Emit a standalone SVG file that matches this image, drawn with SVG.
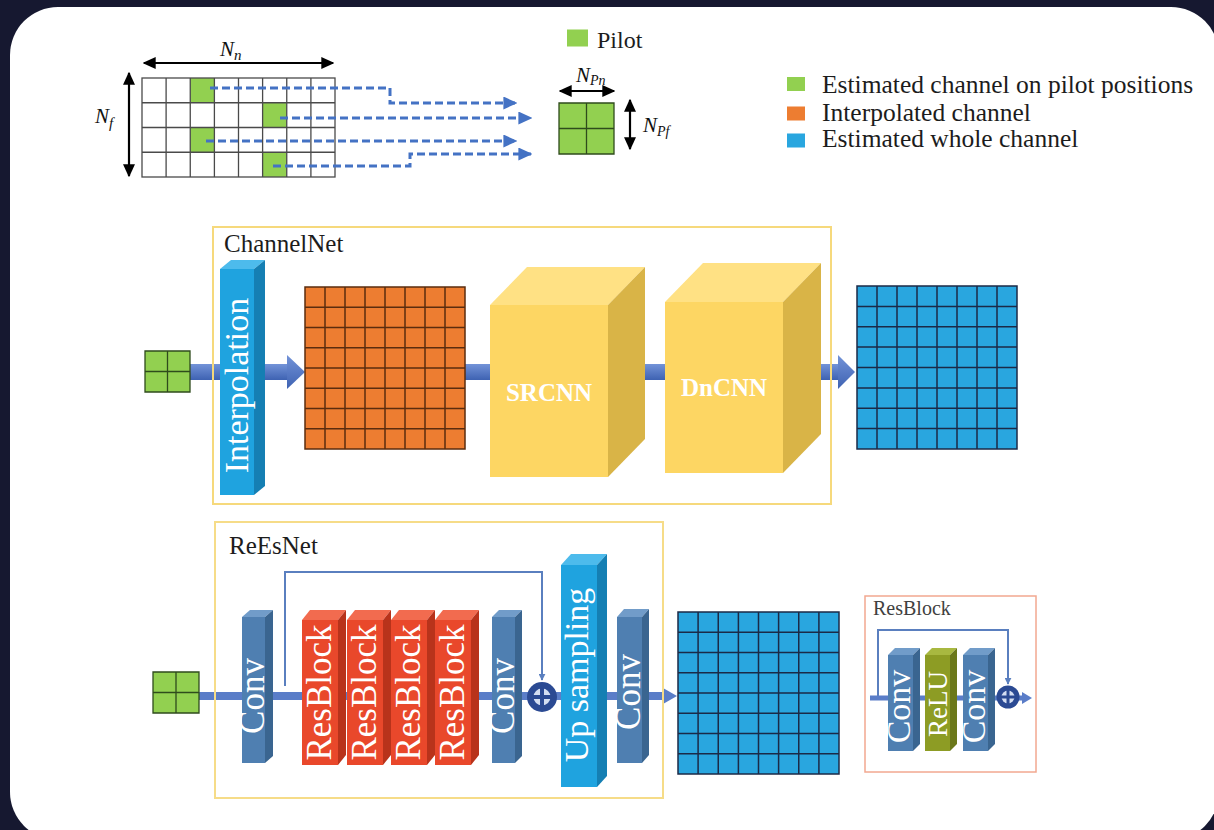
<svg xmlns="http://www.w3.org/2000/svg" width="1214" height="830" viewBox="0 0 1214 830">
<defs>
<style>
text{font-family:"Liberation Serif","Times New Roman",serif}
.math{font-style:italic;fill:#111}
.lg{font-size:25.5px;fill:#1c1c1c}
.ttl{font-size:25px;fill:#1c1c1c}
.wt{fill:#fff;text-anchor:middle}
.gl{stroke:#4a4a4a;stroke-width:1.3;fill:none}
.og{stroke:#5b2c0e;stroke-width:1.5;fill:none}
.bg{stroke:#1b2a47;stroke-width:1.5;fill:none}
.gg{stroke:#2f4b1c;stroke-width:1.3;fill:none}
.dash{stroke:#4472c4;stroke-width:3;stroke-dasharray:8 4;fill:none}
.dbl{stroke:#000;stroke-width:2.2;fill:none}
.skip{stroke:#5a7fbf;stroke-width:2;fill:none}
.fbB{fill:#1fa3df}.tbB{fill:#4dbbec}.sbB{fill:#157fb3}
.fY{fill:#fdd663}.tY{fill:#ffe184}.sY{fill:#d9b447}
.fC{fill:#4f7fb1}.tC{fill:#719cc9}.sC{fill:#3a6590}
.fR{fill:#e9482b}.tR{fill:#f26b4f}.sR{fill:#b8331b}
.fL{fill:#8d9c24}.tL{fill:#a8b840}.sL{fill:#6b781a}
.band{fill:#5a7dc8}
</style>
<linearGradient id="thick" x1="0" y1="0" x2="0" y2="1">
<stop offset="0" stop-color="#7393d8"/>
<stop offset="1" stop-color="#3e62b2"/>
</linearGradient>
<marker id="ba" viewBox="0 0 10 10" refX="9" refY="5" markerWidth="13" markerHeight="12" markerUnits="userSpaceOnUse" orient="auto-start-reverse" preserveAspectRatio="none"><path d="M0,0 L10,5 L0,10 z" fill="#000"/></marker>
<marker id="da" viewBox="0 0 10 10" refX="9" refY="5" markerWidth="14" markerHeight="13" markerUnits="userSpaceOnUse" orient="auto" preserveAspectRatio="none"><path d="M0,0 L10,5 L0,10 z" fill="#4472c4"/></marker>
<marker id="sa" viewBox="0 0 10 10" refX="9" refY="5" markerWidth="7" markerHeight="7" markerUnits="userSpaceOnUse" orient="auto"><path d="M0,0 L10,5 L0,10 z" fill="#5a7fbf"/></marker>
</defs>

<rect x="0" y="0" width="1214" height="830" fill="#161830"/>
<rect x="10" y="7" width="1209" height="833" rx="48" fill="#fff"/>

<!-- Top: resource grid -->
<g id="resource-grid">
<rect x="142" y="78" width="193" height="99" fill="#fff"/>
<rect x="190.25" y="78" width="24.13" height="24.75" fill="#92d050"/>
<rect x="262.6" y="102.75" width="24.13" height="24.75" fill="#92d050"/>
<rect x="190.25" y="127.5" width="24.13" height="24.75" fill="#92d050"/>
<rect x="262.6" y="152.25" width="24.13" height="24.75" fill="#92d050"/>
<rect class="gl" x="142" y="78" width="193" height="99"/>
<path class="gl" d="M166.1 78V177M190.25 78V177M214.4 78V177M238.5 78V177M262.6 78V177M286.75 78V177M310.9 78V177M142 102.75H335M142 127.5H335M142 152.25H335"/>
<line class="dbl" x1="144" y1="63" x2="333" y2="63" marker-start="url(#ba)" marker-end="url(#ba)"/>
<line class="dbl" x1="129" y1="73" x2="129" y2="176" marker-start="url(#ba)" marker-end="url(#ba)"/>
<text class="math" x="220" y="56" font-size="21">N<tspan font-size="15" dy="4">n</tspan></text>
<text class="math" x="95" y="123" font-size="21">N<tspan font-size="15" dy="5">f</tspan></text>
</g>

<g id="pilot-legend">
<rect x="567" y="29.5" width="21" height="17" fill="#92d050"/>
<text x="597" y="48" font-size="24" fill="#1c1c1c">Pilot</text>
</g>

<g id="pilot-block">
<rect x="559" y="103" width="55" height="51" fill="#92d050"/>
<path class="gg" d="M559 103h55v51h-55zM586.5 103V154M559 128.5H614"/>
<line class="dbl" x1="560" y1="91" x2="614" y2="91" marker-start="url(#ba)" marker-end="url(#ba)"/>
<line class="dbl" x1="630" y1="100" x2="630" y2="149" marker-start="url(#ba)" marker-end="url(#ba)"/>
<text class="math" x="576" y="82" font-size="21">N<tspan font-size="14" dy="3">Pn</tspan></text>
<text class="math" x="643" y="131.5" font-size="21">N<tspan font-size="14" dy="4">Pf</tspan></text>
</g>

<g id="legend">
<rect x="787" y="77" width="18" height="14" fill="#92d050"/>
<rect x="787" y="106.5" width="18" height="14" fill="#ed7d31"/>
<rect x="787" y="133.5" width="18" height="14" fill="#29a6df"/>
<text class="lg" x="822" y="93">Estimated channel on pilot positions</text>
<text class="lg" x="822" y="120.5">Interpolated channel</text>
<text class="lg" x="822" y="147">Estimated whole channel</text>
</g>

<g id="connectors">
<path class="dash" d="M210 88H390V103H516" marker-end="url(#da)"/>
<path class="dash" d="M280 118H531" marker-end="url(#da)"/>
<path class="dash" d="M206 141H516" marker-end="url(#da)"/>
<path class="dash" d="M273 166H410V154H531" marker-end="url(#da)"/>
<!-- ChannelNet thick flow -->
<rect x="190" y="364" width="97" height="16" fill="url(#thick)"/>
<polygon points="287,355 305,372 287,389" fill="url(#thick)"/>
<rect x="465" y="364" width="200" height="16" fill="url(#thick)"/>
<rect x="783" y="364" width="55" height="16" fill="url(#thick)"/>
<polygon points="838,355 855,372 838,389" fill="url(#thick)"/>
<!-- ReEsNet flow -->
<rect class="band" x="199" y="692" width="464" height="8"/>
<polygon class="band" points="663,688 677,696 663,704"/>
<path class="skip" d="M285 686V572H542V680" marker-end="url(#sa)"/>
<!-- inset flow -->
<rect class="band" x="870" y="695.5" width="152" height="5"/>
<polygon class="band" points="1022,692 1032,698 1022,704"/>
<path class="skip" d="M878 696V630H1008V684" marker-end="url(#sa)"/>
</g>

<!-- ChannelNet -->
<g id="channelnet-frame">
<rect x="213" y="227" width="618" height="277" fill="none" stroke="#f6d97c" stroke-width="2"/>
<text class="ttl" x="224" y="252">ChannelNet</text>
</g>

<g id="cn-input">
<rect x="145" y="351" width="45" height="41" fill="#92d050"/>
<path class="gg" d="M145 351h45v41h-45zM167.5 351V392M145 371.5H190"/>
</g>

<g id="interpolation">
<rect class="fbB" x="220" y="269" width="34" height="226"/>
<polygon class="tbB" points="220,269 231,260 265,260 254,269"/>
<polygon class="sbB" points="254,269 265,260 265,486 254,495"/>
<text class="wt" transform="translate(248,385.5) rotate(-90)" font-size="34">Interpolation</text>
</g>

<g id="interpolated-grid">
<rect x="305" y="287" width="160" height="162" fill="#ed7d31"/>
<rect class="og" x="305" y="287" width="160" height="162"/>
<path class="og" d="M325 287V449M345 287V449M365 287V449M385 287V449M405 287V449M425 287V449M445 287V449M305 307.25H465M305 327.5H465M305 347.75H465M305 368H465M305 388.25H465M305 408.5H465M305 428.75H465"/>
</g>

<g id="srcnn">
<rect class="fY" x="490" y="305" width="118" height="172"/>
<polygon class="tY" points="490,305 527,267 645,267 608,305"/>
<polygon class="sY" points="608,305 645,267 645,439 608,477"/>
<text class="wt" x="549" y="401" font-size="25" font-weight="bold">SRCNN</text>
</g>

<g id="dncnn">
<rect class="fY" x="665" y="302" width="118" height="171"/>
<polygon class="tY" points="665,302 703,263 821,263 783,302"/>
<polygon class="sY" points="783,302 821,263 821,434 783,473"/>
<text class="wt" x="724" y="396" font-size="25" font-weight="bold">DnCNN</text>
</g>

<g id="cn-output-grid">
<rect x="857" y="286" width="160" height="163" fill="#29a6df"/>
<rect class="bg" x="857" y="286" width="160" height="163"/>
<path class="bg" d="M877 286V449M897 286V449M917 286V449M937 286V449M957 286V449M977 286V449M997 286V449M857 306.4H1017M857 326.75H1017M857 347.1H1017M857 367.5H1017M857 387.9H1017M857 408.25H1017M857 428.6H1017"/>
</g>

<!-- ReEsNet -->
<g id="reesnet-frame">
<rect x="215" y="522" width="448" height="276" fill="none" stroke="#f6dc88" stroke-width="2"/>
<text class="ttl" x="229" y="554">ReEsNet</text>
</g>

<g id="re-input">
<rect x="153" y="672" width="46" height="41" fill="#92d050"/>
<path class="gg" d="M153 672h46v41h-46zM176 672V713M153 692.5H199"/>
</g>

<g id="conv1">
<rect class="fC" x="242" y="617" width="23" height="146"/>
<polygon class="tC" points="242,617 250,610 273,610 265,617"/>
<polygon class="sC" points="265,617 273,610 273,756 265,763"/>
<text class="wt" transform="translate(264,696) rotate(-90)" font-size="35">Conv</text>
</g>

<g id="resblock1">
<rect class="fR" x="302" y="620" width="36" height="145"/>
<polygon class="tR" points="302,620 310,610 346,610 338,620"/>
<polygon class="sR" points="338,620 346,610 346,755 338,765"/>
<text class="wt" transform="translate(331,692.5) rotate(-90)" font-size="35">ResBlock</text>
</g>
<g id="resblock2">
<rect class="fR" x="347" y="620" width="36" height="145"/>
<polygon class="tR" points="347,620 355,610 391,610 383,620"/>
<polygon class="sR" points="383,620 391,610 391,755 383,765"/>
<text class="wt" transform="translate(376,692.5) rotate(-90)" font-size="35">ResBlock</text>
</g>
<g id="resblock3">
<rect class="fR" x="391" y="620" width="36" height="145"/>
<polygon class="tR" points="391,620 399,610 435,610 427,620"/>
<polygon class="sR" points="427,620 435,610 435,755 427,765"/>
<text class="wt" transform="translate(420,692.5) rotate(-90)" font-size="35">ResBlock</text>
</g>
<g id="resblock4">
<rect class="fR" x="435" y="620" width="36" height="145"/>
<polygon class="tR" points="435,620 443,610 479,610 471,620"/>
<polygon class="sR" points="471,620 479,610 479,755 471,765"/>
<text class="wt" transform="translate(464,692.5) rotate(-90)" font-size="35">ResBlock</text>
</g>

<g id="conv2">
<rect class="fC" x="492" y="617" width="23" height="146"/>
<polygon class="tC" points="492,617 499,610 522,610 515,617"/>
<polygon class="sC" points="515,617 522,610 522,756 515,763"/>
<text class="wt" transform="translate(514,696) rotate(-90)" font-size="35">Conv</text>
</g>

<g id="sum1">
<circle cx="542" cy="697" r="15" fill="#2b4a93"/>
<circle cx="542" cy="697" r="8.5" fill="#d4def2"/>
<path d="M533 697H551M542 688V706" stroke="#2b4a93" stroke-width="4"/>
</g>

<g id="upsampling">
<rect class="fbB" x="561" y="565" width="36" height="222"/>
<polygon class="tbB" points="561,565 571,554 607,554 597,565"/>
<polygon class="sbB" points="597,565 607,554 607,776 597,787"/>
<text class="wt" transform="translate(588,675) rotate(-90)" font-size="34">Up sampling</text>
</g>

<g id="conv3">
<rect class="fC" x="617" y="617" width="25" height="146"/>
<polygon class="tC" points="617,617 624,609 649,609 642,617"/>
<polygon class="sC" points="642,617 649,609 649,755 642,763"/>
<text class="wt" transform="translate(640,692) rotate(-90)" font-size="35">Conv</text>
</g>

<g id="re-output-grid">
<rect x="678" y="612" width="161" height="162" fill="#29a6df"/>
<rect class="bg" x="678" y="612" width="161" height="162"/>
<path class="bg" d="M698.1 612V774M718.25 612V774M738.4 612V774M758.5 612V774M778.6 612V774M798.75 612V774M818.9 612V774M678 632.25H839M678 652.5H839M678 672.75H839M678 693H839M678 713.25H839M678 733.5H839M678 753.75H839"/>
</g>

<!-- ResBlock inset -->
<g id="resblock-inset-frame">
<rect x="865" y="596" width="171" height="176" fill="none" stroke="#f2a890" stroke-width="1.5"/>
<text x="873" y="615" font-size="20" fill="#404040">ResBlock</text>
</g>

<g id="inset-conv-a">
<rect class="fC" x="888" y="655" width="25" height="96"/>
<polygon class="tC" points="888,655 895,648 920,648 913,655"/>
<polygon class="sC" points="913,655 920,648 920,744 913,751"/>
<text class="wt" transform="translate(910,706.5) rotate(-90)" font-size="34">Conv</text>
</g>

<g id="inset-relu">
<rect class="fL" x="925" y="655" width="25" height="96"/>
<polygon class="tL" points="925,655 932,648 957,648 950,655"/>
<polygon class="sL" points="950,655 957,648 957,744 950,751"/>
<text class="wt" transform="translate(947,704) rotate(-90)" font-size="27">ReLU</text>
</g>

<g id="inset-conv-b">
<rect class="fC" x="963" y="655" width="25" height="96"/>
<polygon class="tC" points="963,655 970,648 995,648 988,655"/>
<polygon class="sC" points="988,655 995,648 995,744 988,751"/>
<text class="wt" transform="translate(985,706.5) rotate(-90)" font-size="34">Conv</text>
</g>

<g id="sum2">
<circle cx="1008" cy="697" r="11.5" fill="#2b4a93"/>
<circle cx="1008" cy="697" r="6.5" fill="#d4def2"/>
<path d="M1001 697H1015M1008 690V704" stroke="#2b4a93" stroke-width="3"/>
</g>
</svg>
